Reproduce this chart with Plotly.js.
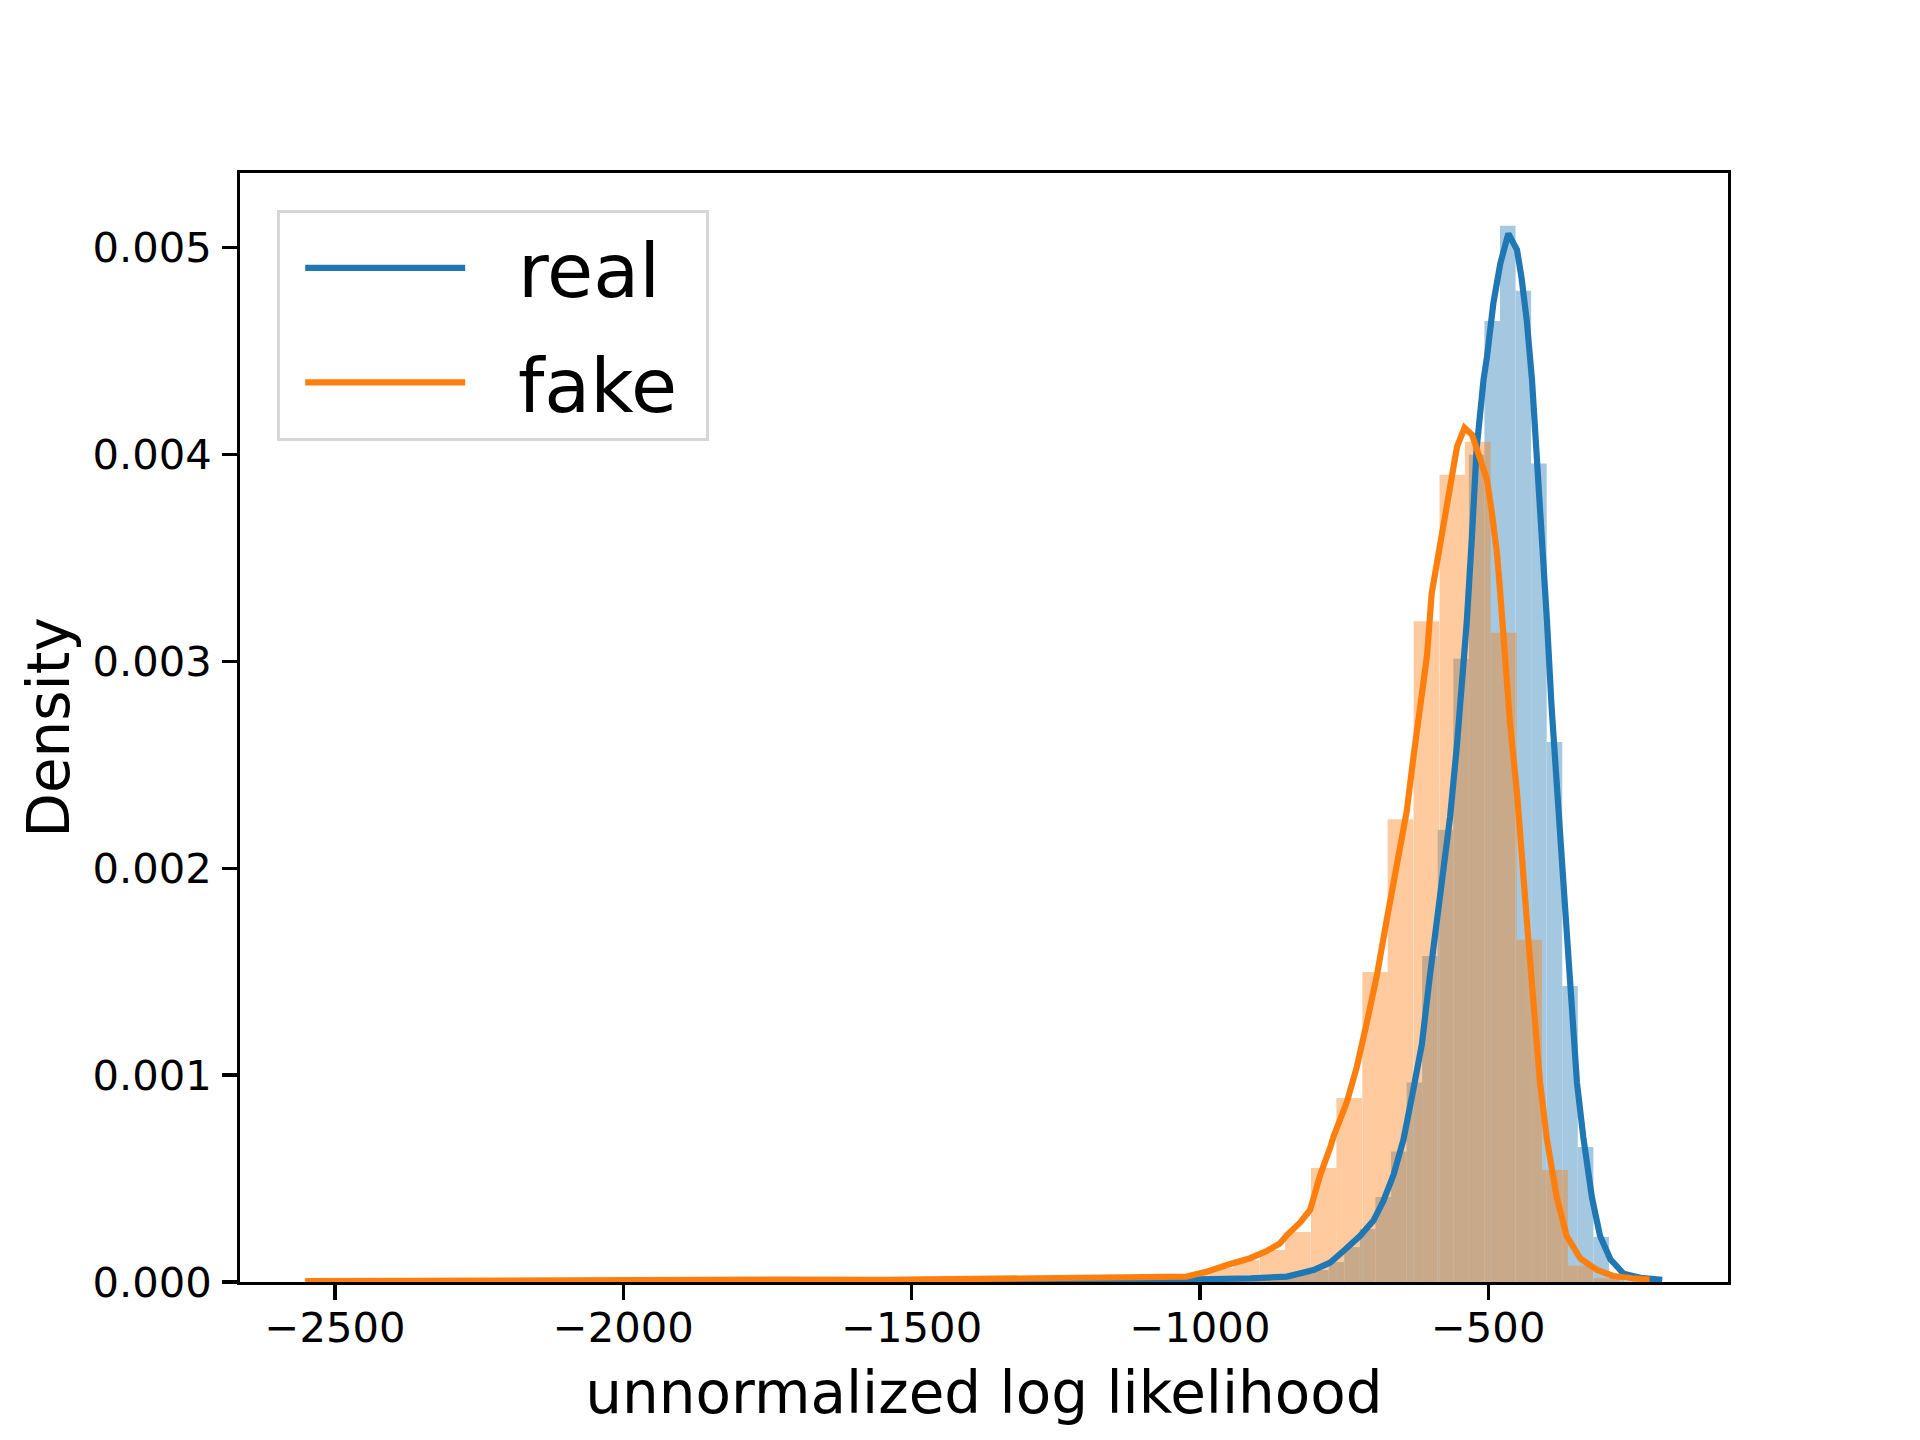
<!DOCTYPE html>
<html>
<head>
<meta charset="utf-8">
<script src="https://cdn.plot.ly/plotly-3.0.1.min.js"></script>
<style>
  body { margin: 0; background: white; }
  #chart { width: 1920px; height: 1440px; }
</style>
</head>
<body>
<div id="chart"></div>
<script>
// histogram bins (centre, density)
var realBinX = [-250, -277, -304, -331, -358, -385, -412, -439, -466, -493, -520, -547, -574, -601,
  -628, -655, -682, -709, -736, -763, -790, -817, -844, -871, -898, -925, -952, -979, -1006,
  -1033, -1060, -1087, -1114, -1141, -1195, -1249, -1330, -1438, -1627];
var realBinY = [0.000004, 0.000034, 0.000218, 0.000653, 0.001431, 0.002611, 0.003957, 0.004792,
  0.005106, 0.004645, 0.003999, 0.003013, 0.002186, 0.001576, 0.000964, 0.000631, 0.000411,
  0.000256, 0.000169, 0.000097, 0.000058, 0.000039, 0.000024, 0.000019, 0.000015, 0.000012,
  0.00001, 0.000008, 0.000008, 0.000006, 0.000005, 0.000004, 0.000004, 0.000004, 0.000003,
  0.000003, 0.000002, 0.000002, 0.000002];

var fakeBinX = [-295, -340, -384, -429, -473, -518, -562, -607, -652, -696, -741, -785, -830,
  -874, -919, -963, -1008, -1053, -1097, -1142, -1186, -1231, -1275, -1320, -1364, -1409, -1454,
  -1498, -1543, -1587, -1632, -1676, -1721, -1766, -1810, -1855, -1899, -1944, -1989, -2078,
  -2167, -2301, -2530];
var fakeBinY = [0.000019, 0.000079, 0.000542, 0.001654, 0.003138, 0.004062, 0.003902, 0.003194,
  0.002237, 0.001499, 0.00089, 0.000551, 0.000242, 0.000155, 0.000106, 0.000068, 0.000034,
  0.000025, 0.00002, 0.000018, 0.000015, 0.000012, 0.000012, 0.00001, 0.000009, 0.000008,
  0.000006, 0.000006, 0.000005, 0.000006, 0.000006, 0.000008, 0.00001, 0.000012, 0.000008,
  0.000006, 0.000005, 0.000004, 0.000004, 0.000004, 0.000003, 0.000003, 0.000003];

// kde curves
var realKdeX = [-1720, -1500, -1300, -1150, -1000, -912, -849, -803, -774, -751, -722, -699, -682,
  -664, -647, -630, -615, -601, -589, -578, -566, -554, -546, -537, -528, -520, -508, -502, -491,
  -479, -465, -450, -442, -433, -424, -416, -407, -398, -390, -381, -372, -364, -355, -346, -335,
  -320, -306, -288, -265, -236, -198];
var realKdeY = [0.000002, 0.000004, 0.000006, 0.000009, 0.000013, 0.000018, 0.000026, 0.000058,
  0.000094, 0.00015, 0.000223, 0.000297, 0.00039, 0.000519, 0.000687, 0.000928, 0.001149,
  0.001482, 0.00176, 0.002, 0.00225, 0.0026, 0.002863, 0.003196, 0.003612, 0.004029, 0.004362,
  0.004473, 0.004731, 0.004923, 0.005068, 0.00499, 0.004852, 0.004647, 0.004362, 0.004029,
  0.003612, 0.003196, 0.00278, 0.002365, 0.002031, 0.001704, 0.001335, 0.000964, 0.0007,
  0.000409, 0.000223, 0.00011, 0.00004, 0.00002, 0.00001];

var fakeKdeX = [-2552, -2400, -2200, -2000, -1850, -1770, -1700, -1550, -1400, -1300, -1250, -1173,
  -1115, -1058, -1023, -1000, -988, -953, -913, -884, -861, -849, -826, -809, -797, -791, -774,
  -768, -745, -728, -710, -693, -676, -659, -641, -630, -618, -606, -598, -586, -575, -563, -554,
  -541, -528, -514, -502, -494, -485, -479, -471, -462, -450, -442, -433, -421, -410, -398, -381,
  -364, -340, -311, -283, -250, -220];
var fakeKdeY = [0.000004, 0.000006, 0.000007, 0.000009, 0.000012, 0.000018, 0.000012, 0.00001,
  0.000014, 0.000016, 0.00002, 0.00002, 0.000023, 0.000029, 0.000026, 0.000042, 0.00005,
  0.000082, 0.000115, 0.00015, 0.000187, 0.000227, 0.000288, 0.000348, 0.00046, 0.00052,
  0.00065, 0.000705, 0.000871, 0.001038, 0.00126, 0.001482, 0.00175, 0.001997, 0.00228,
  0.00253, 0.00278, 0.00303, 0.003329, 0.003529, 0.003729, 0.003929, 0.004038, 0.004129,
  0.004096, 0.00398, 0.003878, 0.003728, 0.00353, 0.00333, 0.00303, 0.002698, 0.002365,
  0.002031, 0.00175, 0.001335, 0.000964, 0.000687, 0.000409, 0.000223, 0.000113, 0.000058,
  0.000029, 0.000018, 0.000012];

var xTicks = [-2500, -2000, -1500, -1000, -500];
var yTicks = [0, 0.001, 0.002, 0.003, 0.004, 0.005];

var blue = "#1f77b4";
var orange = "#ff7f0e";
var font = "DejaVu Sans";
var nb = "\u00a0"; // keeps the gap between legend line and label

var histReal = {
  type: "bar",
  x: realBinX,
  y: realBinY,
  width: 27,
  marker: { color: blue, line: { width: 0 } },
  opacity: 0.4,
  showlegend: false,
  hoverinfo: "skip",
};
var histFake = {
  type: "bar",
  x: fakeBinX,
  y: fakeBinY,
  width: 44.6,
  marker: { color: orange, line: { width: 0 } },
  opacity: 0.4,
  showlegend: false,
  hoverinfo: "skip",
};
var kdeReal = {
  type: "scatter",
  mode: "lines",
  name: nb + nb + "real" + nb,
  x: realKdeX,
  y: realKdeY,
  line: { color: blue, width: 6.2 },
  legendgroup: "a",
};
var kdeFake = {
  type: "scatter",
  mode: "lines",
  name: nb + nb + "fake" + nb,
  x: fakeKdeX,
  y: fakeKdeY,
  line: { color: orange, width: 6.2 },
  legendgroup: "b",
};

var layout = {
  width: 1920,
  height: 1440,
  margin: { l: 240, r: 192, t: 173, b: 158 },
  paper_bgcolor: "white",
  plot_bgcolor: "white",
  barmode: "overlay",
  font: { family: font, color: "black" },
  showlegend: true,
  legend: {
    x: 0.025,
    y: 0.967,
    xanchor: "left",
    yanchor: "top",
    font: { size: 75, family: font },
    bgcolor: "rgba(255,255,255,0.8)",
    bordercolor: "#d6d6d6",
    borderwidth: 3,
    itemwidth: 160,
    indentation: 20,
    tracegroupgap: 14,
  },
  xaxis: {
    range: [-2665, -84],
    tickvals: xTicks,
    ticks: "outside",
    ticklen: 14.6,
    tickwidth: 3.3,
    tickcolor: "black",
    tickfont: { size: 41.7, family: font },
    ticklabelstandoff: -8,
    showline: true,
    mirror: true,
    linecolor: "black",
    linewidth: 3.3,
    showgrid: false,
    zeroline: false,
    title: { text: "unnormalized log likelihood", font: { size: 58, family: font }, standoff: 22 },
  },
  yaxis: {
    range: [0, 0.005361],
    tickvals: yTicks,
    tickformat: ".3f",
    ticks: "outside",
    ticklen: 14.6,
    tickwidth: 3.3,
    tickcolor: "black",
    tickfont: { size: 41.7, family: font },
    ticklabelstandoff: 2,
    showline: true,
    mirror: true,
    linecolor: "black",
    linewidth: 3.3,
    showgrid: false,
    zeroline: false,
    title: { text: "Density", font: { size: 58, family: font }, standoff: 5 },
  },
};

var config = { staticPlot: true, displayModeBar: false };

Plotly.newPlot("chart", [histReal, histFake, kdeReal, kdeFake], layout, config);
</script>
</body>
</html>
